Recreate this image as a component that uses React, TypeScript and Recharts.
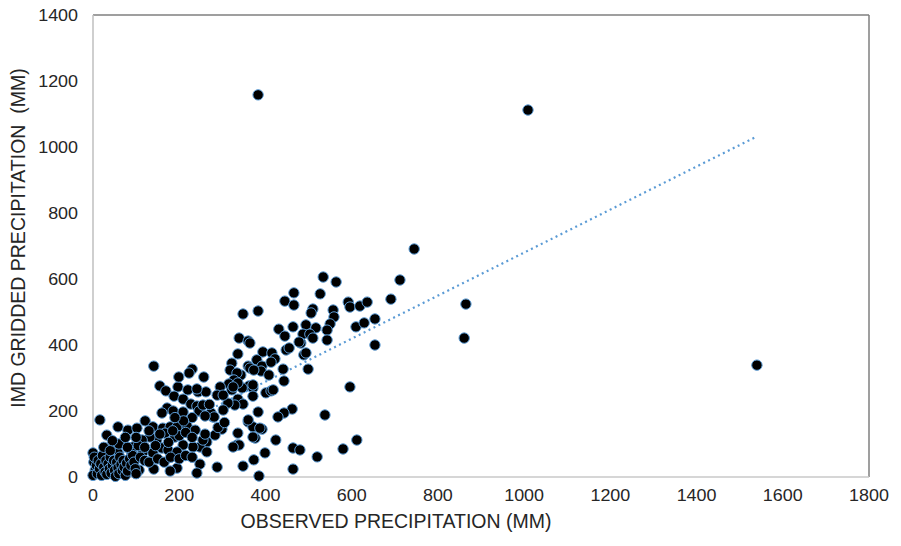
import React from "react";
import {
  ScatterChart,
  Scatter,
  XAxis,
  YAxis,
  ReferenceLine,
  Label,
} from "recharts";

// observed (station) precipitation, mm
const OBSERVED = [
  383, 1009, 1540, 745, 712, 865, 861, 691, 534, 564, 527, 466, 445, 466, 348, 383,
  510, 506, 592, 596, 619, 636, 557, 559, 550, 494, 517, 543, 487, 503, 510, 543,
  610, 629, 654, 654, 482, 431, 464, 445, 478, 339, 360, 364, 336, 394, 415, 422,
  448, 455, 489, 494, 441, 443, 499, 322, 318, 360, 364, 380, 392, 413, 390, 408,
  343, 334, 327, 257, 596, 538, 401, 413, 362, 371, 346, 315, 336, 295, 288, 322,
  383, 462, 443, 429, 360, 371, 392, 336, 299, 278, 283, 376, 424, 612, 264, 334,
  464, 580, 520, 155, 169, 197, 220, 244, 262, 325, 371, 336, 348, 329, 313, 302,
  188, 209, 418, 16, 32, 58, 81, 102, 121, 139, 162, 179, 195, 218, 237, 172,
  160, 186, 209, 227, 241, 246, 255, 274, 281, 302, 360, 387, 339, 325, 371, 399,
  373, 480, 385, 464, 348, 288, 248, 241, 195, 179, 141, 107, 86, 248, 255, 232,
  209, 190, 167, 148, 132, 114, 93, 70, 51, 58, 90, 116, 139, 160, 174, 195,
  264, 141, 373, 230, 223, 199, 241, 371,
  0, 2, 5, 0, 3, 8, 10, 12, 15, 18, 20, 22, 25, 28, 30, 32,
  35, 38, 40, 42, 45, 48, 50, 52, 55, 58, 60, 62, 65, 68, 70, 72,
  75, 78, 80, 85, 88, 92, 95, 98, 100, 25, 40, 60, 80, 105, 110, 120,
  130, 150, 165, 180, 200, 215, 230, 120, 145, 175, 200, 215, 230, 260, 290, 305,
  260, 270, 230, 210, 190, 185, 155, 130, 100, 75, 45,
];

// IMD gridded precipitation, mm (same order as OBSERVED)
const GRIDDED = [
  1158, 1112, 339, 691, 597, 524, 421, 539, 606, 591, 555, 558, 533, 521, 494, 503,
  509, 497, 530, 515, 518, 530, 506, 485, 464, 461, 452, 445, 433, 433, 421, 415,
  455, 467, 479, 400, 406, 448, 455, 427, 409, 421, 412, 406, 373, 379, 376, 358,
  385, 391, 370, 376, 327, 291, 327, 345, 324, 336, 330, 355, 336, 348, 321, 309,
  309, 315, 294, 303, 273, 188, 255, 261, 276, 270, 270, 282, 285, 273, 248, 264,
  197, 206, 194, 182, 167, 152, 145, 133, 145, 182, 127, 118, 112, 112, 106, 97,
  88, 85, 61, 276, 261, 273, 264, 258, 258, 273, 245, 236, 221, 218, 224, 248,
  245, 236, 264, 173, 127, 152, 142, 148, 170, 152, 148, 152, 152, 155, 142, 209,
  194, 200, 197, 221, 215, 200, 218, 194, 182, 203, 173, 148, 97, 91, 121, 73,
  52, 82, 3, 24, 33, 30, 39, 12, 27, 18, 24, 21, 30, 91, 112, 91,
  97, 121, 133, 112, 121, 112, 91, 103, 97, 73, 73, 76, 73, 88, 82, 76,
  76, 336, 324, 327, 315, 303, 267, 279,
  73, 45, 20, 5, 60, 35, 10, 50, 25, 40, 5, 65, 30, 15, 50, 8,
  40, 25, 60, 12, 35, 50, 20, 2, 45, 28, 10, 60, 38, 20, 50, 30,
  5, 42, 18, 55, 35, 65, 45, 25, 10, 90, 80, 100, 90, 95, 60, 50,
  45, 55, 45, 60, 55, 65, 60, 90, 95, 105, 125, 135, 120, 130, 150, 165,
  185, 220, 180, 170, 180, 140, 130, 140, 120, 120, 110,
];

// linear trend line end points
const TREND_X = [0, 1540];
const TREND_Y = [28, 1032];

const X_TICKS = [0, 200, 400, 600, 800, 1000, 1200, 1400, 1600, 1800];
const Y_TICKS = [0, 200, 400, 600, 800, 1000, 1200, 1400];

const FONT = "'Liberation Sans', Arial, sans-serif";
const TEXT = "#262626";

const points = OBSERVED.map((x, i) => ({ x, y: GRIDDED[i] }));

const Dot = (props: any) => (
  <circle cx={props.cx} cy={props.cy} r={5.2} fill="#000" stroke="#5b9bd5" strokeWidth={1} />
);

// the source chart's tick digits are a little wide, so stretch them sideways
const XTick = (props: any) => (
  <g transform={`translate(${props.x},${props.y})`}>
    <text transform="scale(1.12,1)" textAnchor="middle" dy="0.71em" fill={TEXT} fontSize={16} fontFamily={FONT}>
      {props.payload.value}
    </text>
  </g>
);

const YTick = (props: any) => (
  <g transform={`translate(${props.x},${props.y})`}>
    <text transform="scale(1.12,1)" textAnchor="end" dy="0.355em" fill={TEXT} fontSize={16} fontFamily={FONT}>
      {props.payload.value}
    </text>
  </g>
);

const XTitle = () => (
  <text x={396} y={528} textAnchor="middle" fill={TEXT} fontSize={19.5} fontFamily={FONT}>
    OBSERVED PRECIPITATION (MM)
  </text>
);

const YTitle = () => (
  <text
    x={18}
    y={238}
    transform="rotate(-90 18 238)"
    textAnchor="middle"
    dominantBaseline="central"
    fill={TEXT}
    fontSize={19.5}
    fontFamily={FONT}
    style={{ whiteSpace: "pre" }}
  >
    {"IMD GRIDDED PRECIPITATION\u00a0 (MM)"}
  </text>
);

export default function App() {
  return (
    <div style={{ position: "absolute", left: 0, top: 0, width: 901, height: 546, background: "#fff" }}>
      <ScatterChart width={901} height={546} margin={{ top: 15, right: 32, bottom: 0, left: 0 }}>
        <XAxis
          type="number"
          dataKey="x"
          domain={[0, 1800]}
          ticks={X_TICKS}
          height={69}
          tickLine={false}
          tickSize={0}
          tickMargin={13}
          axisLine={{ stroke: "#c8c8c8", strokeWidth: 1.5 }}
          tick={<XTick />}
          interval={0}
        >
          <Label content={XTitle} />
        </XAxis>
        <YAxis
          type="number"
          dataKey="y"
          domain={[0, 1400]}
          ticks={Y_TICKS}
          width={93}
          tickLine={false}
          tickSize={0}
          tickMargin={15}
          axisLine={{ stroke: "#bfbfbf", strokeWidth: 1.5 }}
          tick={<YTick />}
          interval={0}
        >
          <Label content={YTitle} />
        </YAxis>
        <ReferenceLine y={1400} stroke="#7f7f7f" strokeWidth={1.5} />
        <ReferenceLine x={1800} stroke="#7f7f7f" strokeWidth={1.5} />
        <Scatter data={points} shape={Dot} isAnimationActive={false} />
        <ReferenceLine
          segment={[
            { x: TREND_X[0], y: TREND_Y[0] },
            { x: TREND_X[1], y: TREND_Y[1] },
          ]}
          stroke="#5b9bd5"
          strokeWidth={2.2}
          strokeDasharray="2 3.5"
        />
      </ScatterChart>
    </div>
  );
}
